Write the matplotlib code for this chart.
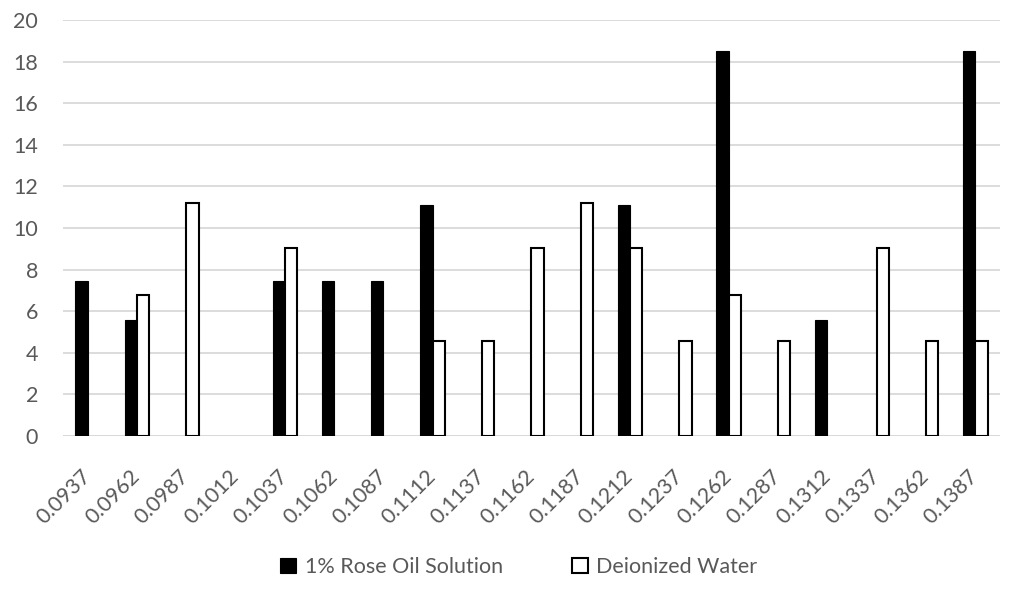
import numpy as np
import matplotlib.pyplot as plt

categories = ['0.0937', '0.0962', '0.0987', '0.1012', '0.1037', '0.1062', '0.1087',
              '0.1112', '0.1137', '0.1162', '0.1187', '0.1212', '0.1237', '0.1262',
              '0.1287', '0.1312', '0.1337', '0.1362', '0.1387']
rose_oil = [7.45, 5.6, 0, 0, 7.45, 7.45, 7.45, 11.1, 0, 0, 0, 11.1, 0, 18.5,
            0, 5.6, 0, 0, 18.5]
water = [0, 6.8, 11.2, 0, 9.05, 0, 0, 4.55, 4.55, 9.05, 11.2, 9.05, 4.55, 6.8,
         4.55, 0, 9.05, 4.55, 4.55]

plt.rcParams['font.family'] = ['Lato', 'DejaVu Sans']

fig = plt.figure(figsize=(10.09, 6), dpi=100)
ax = fig.add_axes([0.0624, 0.2733, 0.9286, 0.6934])

x = np.arange(len(categories))
w = 0.25
r = np.array(rose_oil)
d = np.array(water)
# empty categories get no bar at all (no outline at zero)
ax.bar(x[r > 0] - w / 2, r[r > 0], w, color='black', edgecolor='black', linewidth=0.8,
       label='1% Rose Oil Solution', zorder=3)
ax.bar(x[d > 0] + w / 2, d[d > 0], w, color='white', edgecolor='black', linewidth=1.5,
       label='Deionized Water', zorder=3)

ax.set_xlim(-0.5, len(categories) - 0.5)
ax.set_ylim(0, 20)
ax.set_yticks(range(0, 21, 2))
ax.yaxis.grid(True, color='#d9d9d9', linewidth=1.3)
ax.set_axisbelow(True)
for s in ax.spines.values():
    s.set_visible(False)
ax.axhline(0, color='#d9d9d9', linewidth=1.3, zorder=1)

ax.set_xticks(x)
ax.set_xticklabels(categories, rotation=45, ha='right', va='center', rotation_mode='anchor')
ax.tick_params(axis='both', length=0, labelsize=15.5, labelcolor='#595959')
ax.tick_params(axis='y', pad=18)
ax.tick_params(axis='x', pad=27)

ax.legend(loc='center', bbox_to_anchor=(0.514, 0.055), bbox_transform=fig.transFigure,
          ncol=2, frameon=False, fontsize=15.5, labelcolor='#595959',
          handlelength=0.75, handleheight=0.75, handletextpad=0.4, columnspacing=3.2)

fig.savefig('out.png', dpi=100)
